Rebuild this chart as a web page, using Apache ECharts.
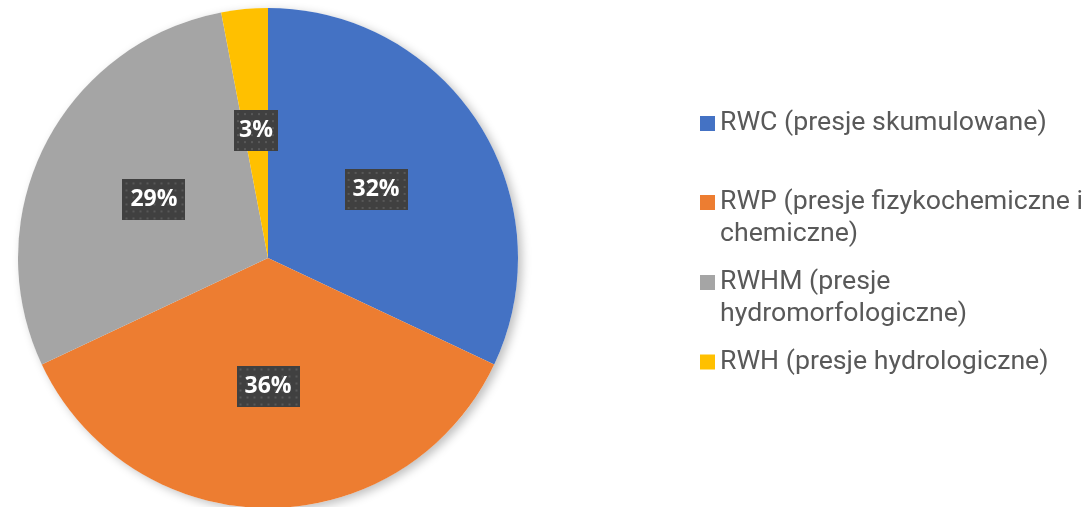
<!DOCTYPE html>
<html>
<head>
<meta charset="utf-8">
<script src="https://cdn.jsdelivr.net/npm/echarts@6/dist/echarts.min.js"></script>
<style>
  html, body { margin: 0; padding: 0; background: #fff; }
  #box { width: 1089px; height: 507px; }
</style>
</head>
<body>
<div id="box"></div>
<script>
const names = [
  "RWC (presje skumulowane)",
  "RWP (presje fizykochemiczne i\nchemiczne)",
  "RWHM (presje\nhydromorfologiczne)",
  "RWH (presje hydrologiczne)"
];
const values = [32, 36, 29, 3];
const colors = ["#4472C4", "#ED7D31", "#A5A5A5", "#FFC000"];
const legendTops = [107.5, 154.5, 234.5, 346];

// dark dotted box behind the data labels
function dotted(w, h) {
  const c = document.createElement("canvas");
  c.width = w; c.height = h;
  const ctx = c.getContext("2d");
  ctx.fillStyle = "#404040";
  ctx.fillRect(0, 0, w, h);
  ctx.fillStyle = "#585858";
  for (let y = 3; y < h; y += 7) {
    for (let x = 3; x < w; x += 7) {
      ctx.fillRect(x, y, 2, 2);
    }
  }
  return c;
}

let mycharts = echarts.init(document.getElementById("box"));

let pieData = names.map(function (n, i) {
  let w = String(values[i]).length > 1 ? 63 : 44;
  return {
    name: n,
    value: values[i],
    itemStyle: { color: colors[i] },
    label: { width: w, backgroundColor: { image: dotted(w, 41) } }
  };
});

let legends = names.map(function (n, i) {
  let multi = n.indexOf("\n") >= 0;
  return {
    data: [n],
    orient: "vertical",
    left: 700,
    top: legendTops[i],
    icon: "rect",
    itemWidth: 15,
    itemHeight: 15,
    itemGap: 0,
    padding: 0,
    selectedMode: false,
    formatter: function (name) { return multi ? "\n" + name : name; },
    textStyle: {
      fontFamily: "Roboto",
      fontSize: 26.7,
      lineHeight: 32,
      color: "#595959"
    }
  };
});

mycharts.setOption({
  animation: false,
  backgroundColor: "#fff",
  legend: legends,
  series: [
    {
      type: "pie",
      silent: true,
      radius: 250,
      center: [268, 258],
      z: 1,
      label: { show: false },
      labelLine: { show: false },
      data: [{ value: 1, name: "_shadow", itemStyle: {
        color: "#fff",
        shadowBlur: 10,
        shadowColor: "rgba(0,0,0,0.25)",
        shadowOffsetX: 4,
        shadowOffsetY: 3
      } }]
    },
    {
      type: "pie",
      radius: 250,
      center: [268, 258],
      startAngle: 90,
      clockwise: true,
      z: 2,
      percentPrecision: 0,
      label: {
        show: true,
        position: "inside",
        formatter: "{d}%",
        color: "#fff",
        fontFamily: "Open Sans",
        fontWeight: "bold",
        fontSize: 23,
        height: 41,
        lineHeight: 41,
        align: "center",
        verticalAlign: "middle",
        padding: 0,
        shadowBlur: 6,
        shadowColor: "rgba(0,0,0,0.45)",
        shadowOffsetX: 3,
        shadowOffsetY: 3
      },
      labelLine: { show: false },
      emphasis: { disabled: true },
      data: pieData
    }
  ]
});
</script>
</body>
</html>
